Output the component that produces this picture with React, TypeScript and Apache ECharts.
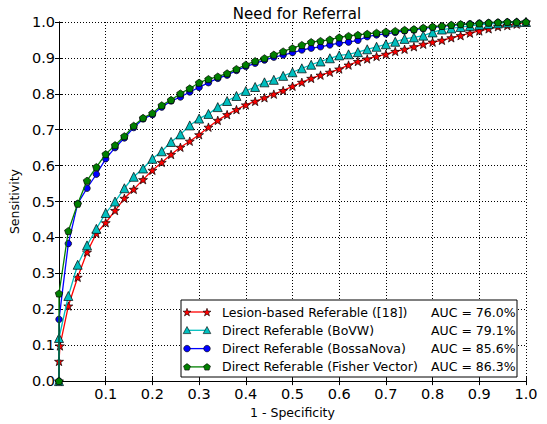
import React, { useEffect, useRef } from "react";
import * as echarts from "echarts";

const seriesNames = [
  "Lesion-based Referable ([18])",
  "Direct Referable (BoVW)",
  "Direct Referable (BossaNova)",
  "Direct Referable (Fisher Vector)",
];
const aucLabels = ["AUC = 76.0%", "AUC = 79.1%", "AUC = 85.6%", "AUC = 86.3%"];
const seriesColors = ["#ff0000", "#00bfbf", "#0000ff", "#008000"];

const xTicks = [0, 0.1, 0.2, 0.3, 0.4, 0.5, 0.6, 0.7, 0.8, 0.9, 1.0];

// false-positive rate grid shared by all curves (after their starting points)
const fprGrid = [
  0.02, 0.04, 0.06, 0.08, 0.1, 0.12, 0.14, 0.16, 0.18, 0.2,
  0.22, 0.24, 0.26, 0.28, 0.3, 0.32, 0.34, 0.36, 0.38, 0.4,
  0.42, 0.44, 0.46, 0.48, 0.5, 0.52, 0.54, 0.56, 0.58, 0.6,
  0.62, 0.64, 0.66, 0.68, 0.7, 0.72, 0.74, 0.76, 0.78, 0.8,
  0.82, 0.84, 0.86, 0.88, 0.9, 0.92, 0.94, 0.96, 0.98, 1.0,
];

// starting points near the origin
const lesionStartX = [0, 0, 0.002];
const lesionStartY = [0, 0.055, 0.098];
const bovwStartX = [0, 0];
const bovwStartY = [0, 0.12];
const bossaStartX = [0, 0];
const bossaStartY = [0, 0.172];
const fisherStartX = [0, 0];
const fisherStartY = [0, 0.244];

const lesionTpr = [
  0.209, 0.289, 0.359, 0.411, 0.441, 0.475, 0.509, 0.534, 0.561, 0.587,
  0.609, 0.631, 0.651, 0.668, 0.686, 0.707, 0.726, 0.742, 0.756, 0.769,
  0.779, 0.789, 0.799, 0.809, 0.821, 0.832, 0.843, 0.852, 0.86, 0.869,
  0.88, 0.89, 0.897, 0.904, 0.91, 0.918, 0.924, 0.931, 0.938, 0.944,
  0.949, 0.956, 0.962, 0.969, 0.975, 0.981, 0.987, 0.99, 0.994, 1.0,
];
const bovwTpr = [
  0.237, 0.324, 0.378, 0.424, 0.468, 0.5, 0.537, 0.569, 0.592, 0.619,
  0.64, 0.666, 0.687, 0.712, 0.731, 0.744, 0.763, 0.78, 0.794, 0.808,
  0.819, 0.832, 0.839, 0.85, 0.86, 0.871, 0.881, 0.89, 0.899, 0.907,
  0.91, 0.916, 0.924, 0.931, 0.938, 0.945, 0.953, 0.957, 0.962, 0.971,
  0.979, 0.982, 0.986, 0.989, 0.992, 0.994, 0.996, 0.998, 0.999, 1.0,
];
const bossaTpr = [
  0.383, 0.494, 0.537, 0.576, 0.619, 0.65, 0.677, 0.706, 0.73, 0.742,
  0.763, 0.78, 0.791, 0.805, 0.818, 0.831, 0.843, 0.852, 0.865, 0.876,
  0.885, 0.894, 0.902, 0.908, 0.915, 0.922, 0.927, 0.931, 0.936, 0.941,
  0.944, 0.949, 0.959, 0.964, 0.967, 0.971, 0.975, 0.978, 0.982, 0.985,
  0.988, 0.991, 0.993, 0.995, 0.997, 0.998, 0.999, 1.0, 1.0, 1.0,
];
const fisherTpr = [
  0.418, 0.494, 0.558, 0.596, 0.632, 0.657, 0.682, 0.711, 0.733, 0.746,
  0.768, 0.783, 0.801, 0.815, 0.831, 0.841, 0.848, 0.857, 0.869, 0.881,
  0.891, 0.899, 0.909, 0.918, 0.927, 0.936, 0.944, 0.947, 0.951, 0.957,
  0.961, 0.964, 0.967, 0.97, 0.973, 0.975, 0.978, 0.98, 0.984, 0.987,
  0.989, 0.992, 0.994, 0.994, 0.996, 0.998, 0.999, 1.0, 1.0, 1.0,
];

const STAR =
  "path://M0,-10 L2.35,-3.24 L9.51,-3.09 L3.8,1.24 L5.88,8.09 L0,4 L-5.88,8.09 L-3.8,1.24 L-9.51,-3.09 L-2.35,-3.24 Z";
const PENTAGON = "path://M0,-10 L9.51,-3.09 L5.88,8.09 L-5.88,8.09 L-9.51,-3.09 Z";

const seriesSymbols = [STAR, "triangle", "circle", PENTAGON];
const seriesSymbolSizes = [9, 9, 6.5, 7.5];
const legendKinds = ["star", "triangle", "circle", "pentagon"];

function buildPoints(sx: number[], sy: number[], ys: number[]) {
  const pts: number[][] = sx.map((x, i) => [x, sy[i]]);
  fprGrid.forEach((x, i) => pts.push([x, ys[i]]));
  return pts;
}

function regularPoints(cx: number, cy: number, r: number, n: number, inner?: number) {
  const pts: number[][] = [];
  const count = inner ? n * 2 : n;
  for (let k = 0; k < count; k++) {
    const a = -Math.PI / 2 + (k * Math.PI * 2) / count;
    const rr = inner && k % 2 === 1 ? inner : r;
    pts.push([cx + rr * Math.cos(a), cy + rr * Math.sin(a)]);
  }
  return pts;
}

function legendMarker(kind: string, cx: number, cy: number, color: string) {
  const style = { fill: color, stroke: "#000", lineWidth: 0.6 };
  if (kind === "circle") return { type: "circle", shape: { cx, cy, r: 3.3 }, style, z: 102 };
  if (kind === "triangle")
    return {
      type: "polygon",
      shape: { points: [[cx, cy - 3.8], [cx + 3.8, cy + 3.3], [cx - 3.8, cy + 3.3]] },
      style,
      z: 102,
    };
  if (kind === "star")
    return { type: "polygon", shape: { points: regularPoints(cx, cy + 0.5, 4.2, 5, 1.7) }, style, z: 102 };
  return { type: "polygon", shape: { points: regularPoints(cx, cy + 0.3, 3.6, 5) }, style, z: 102 };
}

const FONT = "DejaVu Sans";

export default function App() {
  const ref = useRef<HTMLDivElement>(null);
  useEffect(() => {
    document.body.style.margin = "0";
    if (!ref.current) return;
    const chart = echarts.init(ref.current, null, { renderer: "svg" });
    const data = [
      buildPoints(lesionStartX, lesionStartY, lesionTpr),
      buildPoints(bovwStartX, bovwStartY, bovwTpr),
      buildPoints(bossaStartX, bossaStartY, bossaTpr),
      buildPoints(fisherStartX, fisherStartY, fisherTpr),
    ];
    const axisCommon = {
      type: "value" as const,
      min: 0,
      max: 1,
      interval: 0.1,
      axisLine: { show: true, lineStyle: { color: "#000", width: 1 } },
      axisTick: { show: true, inside: true, length: 4, lineStyle: { color: "#000" } },
    };

    // legend box drawn as graphic (matplotlib style: line with a marker at both ends)
    const lgX = 181, lgY = 300, lgW = 336, lgH = 77;
    const legendEls: any[] = [
      {
        type: "rect",
        shape: { x: lgX, y: lgY, width: lgW, height: lgH },
        style: { fill: "#fff", stroke: "#000", lineWidth: 1 },
        z: 100,
      },
    ];
    seriesNames.forEach((name, i) => {
      const cy = 312 + i * 18.3;
      legendEls.push({
        type: "line",
        shape: { x1: 187, y1: cy, x2: 207, y2: cy },
        style: { stroke: seriesColors[i], lineWidth: 1.3 },
        z: 101,
      });
      legendEls.push(legendMarker(legendKinds[i], 187, cy, seriesColors[i]));
      legendEls.push(legendMarker(legendKinds[i], 207, cy, seriesColors[i]));
      legendEls.push({
        type: "text",
        style: {
          text: name,
          x: 222,
          y: cy,
          fill: "#000",
          font: `12.5px "${FONT}"`,
          verticalAlign: "middle",
        },
        z: 101,
      });
      legendEls.push({
        type: "text",
        style: {
          text: aucLabels[i],
          x: 431,
          y: cy,
          fill: "#000",
          font: `12.5px "${FONT}"`,
          verticalAlign: "middle",
        },
        z: 101,
      });
    });

    const option: any = {
      animation: false,
      backgroundColor: "#fff",
      title: {
        text: "Need for Referral",
        left: 292,
        top: 1,
        textAlign: "center",
        textStyle: { fontFamily: FONT, fontSize: 15, fontWeight: "normal", color: "#000" },
      },
      grid: { left: 59, right: 21, top: 22, bottom: 42, containLabel: false },
      xAxis: [
        {
          ...axisCommon,
          position: "bottom",
          name: "1 - Specificity",
          nameLocation: "middle",
          nameGap: 23,
          nameTextStyle: { fontFamily: FONT, fontSize: 12.5, color: "#000" },
          axisLabel: {
            fontFamily: FONT,
            fontSize: 14.5,
            color: "#000",
            margin: 5,
            formatter: (v: number) => (v === xTicks[0] ? "" : v.toFixed(1)),
          },
          splitLine: { show: true, lineStyle: { color: "#000", width: 1, type: [1, 2] } },
        },
        {
          ...axisCommon,
          position: "top",
          axisLabel: { show: false },
          splitLine: { show: false },
        },
      ],
      yAxis: [
        {
          ...axisCommon,
          position: "left",
          name: "Sensitivity",
          nameLocation: "middle",
          nameGap: 28,
          nameTextStyle: { fontFamily: FONT, fontSize: 12.5, color: "#000" },
          axisLabel: {
            fontFamily: FONT,
            fontSize: 14.5,
            color: "#000",
            margin: 4,
            formatter: (v: number) => v.toFixed(1),
          },
          splitLine: { show: true, lineStyle: { color: "#000", width: 1, type: [1, 2] } },
        },
        {
          ...axisCommon,
          position: "right",
          axisLabel: { show: false },
          splitLine: { show: false },
        },
      ],
      graphic: legendEls,
      series: seriesNames.map((name, i) => ({
        name,
        type: "line",
        xAxisIndex: 0,
        yAxisIndex: 0,
        data: data[i],
        symbol: seriesSymbols[i],
        symbolSize: seriesSymbolSizes[i],
        symbolKeepAspect: true,
        showAllSymbol: true,
        clip: false,
        lineStyle: { color: seriesColors[i], width: 1.3 },
        itemStyle: { color: seriesColors[i], borderColor: "#000", borderWidth: 0.7 },
        z: 2 + i,
      })),
    };
    chart.setOption(option);
    return () => chart.dispose();
  }, []);
  return <div ref={ref} style={{ width: 547, height: 424 }} />;
}
